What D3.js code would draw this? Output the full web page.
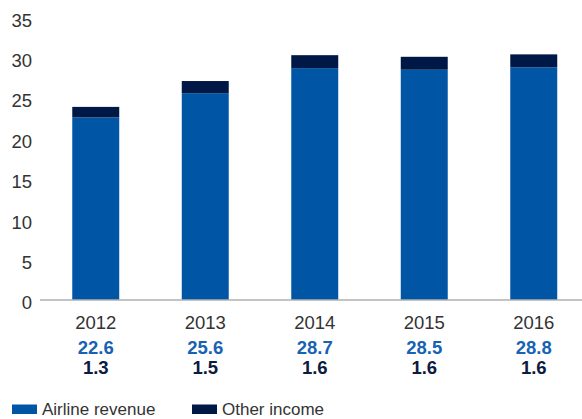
<!DOCTYPE html>
<html>
<head>
<meta charset="utf-8">
<script src="https://cdn.jsdelivr.net/npm/d3@7"></script>
<style>
  html, body { margin: 0; padding: 0; background: #fff; }
  svg { display: block; }
  text { font-family: "Liberation Sans", Arial, Helvetica, sans-serif; }
</style>
</head>
<body>
<svg id="chart" width="582" height="419"></svg>
<script>
const years = ["2012", "2013", "2014", "2015", "2016"];
const airlineRevenue = [22.6, 25.6, 28.7, 28.5, 28.8];
const otherIncome = [1.3, 1.5, 1.6, 1.6, 1.6];
const yTicks = [0, 5, 10, 15, 20, 25, 30, 35];
const seriesNames = ["Airline revenue", "Other income"];

const colors = { airline: "#0056a4", other: "#001845", airlineText: "#1762b2", otherText: "#0e1b40" };

const svg = d3.select("#chart");

const x = d3.scaleBand().domain(years).range([41, 588.5]).paddingInner(0.571).paddingOuter(0.2855);
const y = d3.scaleLinear().domain([0, 35]).range([300, 17.2]);

// Y tick labels
const yAxis = d3.axisLeft(y).tickValues(yTicks).tickSize(0).tickPadding(0).tickFormat(d3.format("d"));
const gy = svg.append("g").attr("transform", "translate(32,3)").call(yAxis);
gy.select(".domain").remove();
gy.selectAll("text")
  .attr("fill", "#333")
  .style("font-size", "18.5px")
  .style("font-family", "'Liberation Sans', Arial, sans-serif");

// Bars
const stackData = years.map((yr, i) => ({ year: yr, airline: airlineRevenue[i], other: otherIncome[i] }));
const stack = d3.stack().keys(["airline", "other"])(stackData);
const fills = { airline: colors.airline, other: colors.other };

svg.append("g").selectAll("g").data(stack).join("g")
  .attr("fill", d => fills[d.key])
  .selectAll("rect").data(d => d).join("rect")
  .attr("x", d => x(d.data.year))
  .attr("width", x.bandwidth())
  .attr("y", d => y(d[1]))
  .attr("height", d => y(d[0]) - y(d[1]));

// Baseline axis
svg.append("line")
  .attr("x1", 40).attr("x2", 582)
  .attr("y1", y(0)).attr("y2", y(0))
  .attr("stroke", "#b0b0b0").attr("stroke-width", 1.5);

// Year labels and values
const lab = svg.append("g").attr("text-anchor", "middle");
lab.selectAll("text.year").data(years).join("text")
  .attr("class", "year")
  .attr("x", d => x(d) + x.bandwidth() / 2)
  .attr("y", 328.5)
  .attr("fill", "#333")
  .style("font-size", "18.5px")
  .text(d => d);
lab.selectAll("text.av").data(airlineRevenue).join("text")
  .attr("class", "av")
  .attr("x", (d, i) => x(years[i]) + x.bandwidth() / 2)
  .attr("y", 353.5)
  .attr("fill", colors.airlineText)
  .style("font-size", "18.5px").style("font-weight", "bold")
  .text(d => d3.format(".1f")(d));
lab.selectAll("text.ov").data(otherIncome).join("text")
  .attr("class", "ov")
  .attr("x", (d, i) => x(years[i]) + x.bandwidth() / 2)
  .attr("y", 374)
  .attr("fill", colors.otherText)
  .style("font-size", "18.5px").style("font-weight", "bold")
  .text(d => d3.format(".1f")(d));

// Legend
const legendX = [12, 192];
const legend = svg.append("g");
seriesNames.forEach((name, i) => {
  legend.append("rect")
    .attr("x", legendX[i]).attr("y", 404.5)
    .attr("width", 25).attr("height", 9.5)
    .attr("fill", i === 0 ? colors.airline : colors.other);
  legend.append("text")
    .attr("x", legendX[i] + 30).attr("y", 414.5)
    .attr("fill", "#333")
    .style("font-size", "17px")
    .text(name);
});
</script>
</body>
</html>
